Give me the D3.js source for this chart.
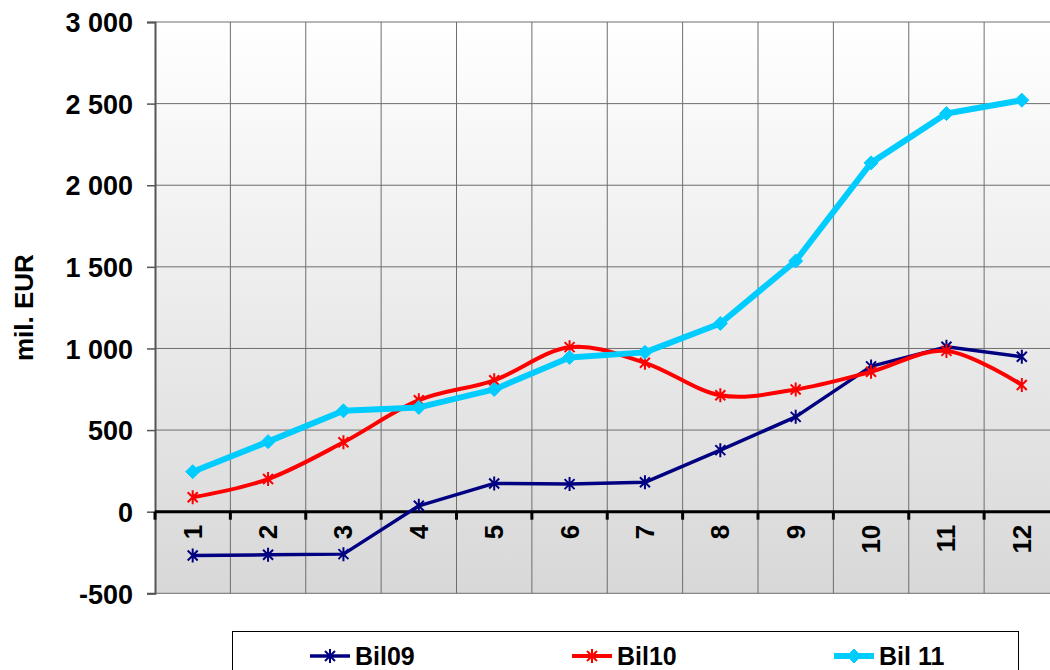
<!DOCTYPE html>
<html>
<head>
<meta charset="utf-8">
<script src="https://cdn.jsdelivr.net/npm/d3@7"></script>
<style>
  body { margin: 0; background: #fff; }
  svg { display: block; font-family: "Liberation Sans", Arial, sans-serif; }
</style>
</head>
<body>
<div id="chart"></div>
<script>
// Data
var months = ["1", "2", "3", "4", "5", "6", "7", "8", "9", "10", "11", "12"];
var bil09 = [-268, -264, -260, 36, 173, 169, 180, 377, 581, 890, 1010, 949];
var bil10 = [88, 200, 425, 683, 805, 1008, 912, 713, 749, 857, 985, 776];
var bil11 = [245, 429, 618, 639, 749, 945, 976, 1153, 1536, 2137, 2439, 2521];
var seriesNames = ["Bil09", "Bil10", "Bil 11"];
var yTicks = [-500, 0, 500, 1000, 1500, 2000, 2500, 3000];
var yLabel = "mil. EUR";

var width = 1050, height = 670;
var margin = {top: 22, left: 155};
var plotRight = 1059.5, plotBottom = 593.3;

var svg = d3.select("#chart").append("svg")
	.attr("width", width)
	.attr("height", height);

// background gradient of plot area
var defs = svg.append("defs");
var grad = defs.append("linearGradient")
	.attr("id", "bg")
	.attr("x1", 0).attr("y1", 0).attr("x2", 0).attr("y2", 1);
grad.append("stop").attr("offset", "0%").attr("stop-color", "#ffffff");
grad.append("stop").attr("offset", "100%").attr("stop-color", "#d8d8d8");

var x = d3.scaleBand()
	.domain(months)
	.range([margin.left, plotRight]);

var y = d3.scaleLinear()
	.domain([-500, 3000])
	.range([plotBottom, margin.top]);

svg.append("rect")
	.attr("x", margin.left)
	.attr("y", margin.top)
	.attr("width", plotRight - margin.left)
	.attr("height", plotBottom - margin.top)
	.attr("fill", "url(#bg)");

// horizontal grid
svg.append("g")
	.selectAll("line")
	.data(yTicks)
	.join("line")
	.attr("x1", margin.left)
	.attr("x2", plotRight)
	.attr("y1", d => y(d))
	.attr("y2", d => y(d))
	.attr("stroke", "#6e6e6e")
	.attr("stroke-width", 1);

// vertical grid at category boundaries
svg.append("g")
	.selectAll("line")
	.data(months.slice(1))
	.join("line")
	.attr("x1", d => x(d))
	.attr("x2", d => x(d))
	.attr("y1", margin.top)
	.attr("y2", plotBottom)
	.attr("stroke", "#6e6e6e")
	.attr("stroke-width", 1);

// y axis
var fmt = d3.format(",");
var yAxis = d3.axisLeft(y)
	.tickValues(yTicks)
	.tickSize(8)
	.tickPadding(14)
	.tickFormat(d => fmt(d).replace(/,/g, " ").replace("\u2212", "-"));

var yAxisG = svg.append("g")
	.attr("transform", `translate(${margin.left}, 0)`)
	.call(yAxis);
yAxisG.select(".domain").attr("stroke", "#555").attr("stroke-width", 2);
yAxisG.selectAll(".tick line").attr("stroke", "#555").attr("stroke-width", 1.5);
yAxisG.selectAll(".tick text")
	.attr("fill", "#000")
	.style("font-size", "27px")
	.style("font-weight", "bold")
	.attr("dy", "0.36em");

svg.append("text")
	.attr("transform", `translate(33, ${(margin.top + plotBottom) / 2}) rotate(-90)`)
	.attr("text-anchor", "middle")
	.style("font-size", "26px")
	.style("font-weight", "bold")
	.text(yLabel);

// x axis on the zero line
var xAxisG = svg.append("g")
	.attr("transform", `translate(0, ${y(0)})`);
xAxisG.append("line")
	.attr("x1", margin.left)
	.attr("x2", plotRight)
	.attr("stroke", "#000")
	.attr("stroke-width", 3);
xAxisG.selectAll(".xtick")
	.data(months)
	.join("line")
	.attr("class", "xtick")
	.attr("x1", d => x(d))
	.attr("x2", d => x(d))
	.attr("y1", 0)
	.attr("y2", 8)
	.attr("stroke", "#000")
	.attr("stroke-width", 3);
xAxisG.selectAll(".xlabel")
	.data(months)
	.join("text")
	.attr("class", "xlabel")
	.attr("transform", d => `translate(${x(d) + x.bandwidth() / 2 + 9}, 13) rotate(-90)`)
	.attr("text-anchor", "end")
	.style("font-size", "26px")
	.style("font-weight", "bold")
	.text(d => d);

// series
var star = "M-5,-5L5,5M-5,5L5,-5M0,-7L0,7";
var diamond = "M0,-7L7,0L0,7L-7,0Z";
var series = [
	{name: seriesNames[0], values: bil09, color: "#000080", width: 3.5, curve: d3.curveLinear, marker: "star"},
	{name: seriesNames[1], values: bil10, color: "#ff0000", width: 4, curve: d3.curveCardinal.tension(0), marker: "star"},
	{name: seriesNames[2], values: bil11, color: "#00ccff", width: 6, curve: d3.curveLinear, marker: "diamond"}
];

var cx = (d, i) => x(months[i]) + x.bandwidth() / 2;

series.forEach(function(s){
	var line = d3.line()
		.x((d, i) => cx(d, i))
		.y(d => y(d))
		.curve(s.curve);

	svg.append("path")
		.datum(s.values)
		.attr("d", line)
		.attr("fill", "none")
		.attr("stroke", s.color)
		.attr("stroke-width", s.width)
		.attr("stroke-linejoin", "round");

	svg.append("g")
		.selectAll("path")
		.data(s.values)
		.join("path")
		.attr("transform", (d, i) => `translate(${cx(d, i)}, ${y(d)})`)
		.attr("d", s.marker == "star" ? star : diamond)
		.attr("fill", s.color)
		.attr("stroke", s.color)
		.attr("stroke-width", s.marker == "star" ? 2 : 1);
});

// legend
svg.append("rect")
	.attr("x", 232.5)
	.attr("y", 631.5)
	.attr("width", 786)
	.attr("height", 60)
	.attr("fill", "#fff")
	.attr("stroke", "#000")
	.attr("stroke-width", 1);

var legendX = [310, 572, 834];
series.forEach(function(s, i){
	var g = svg.append("g").attr("transform", `translate(${legendX[i]}, 656)`);
	g.append("line")
		.attr("x1", 0).attr("x2", 40)
		.attr("stroke", s.color)
		.attr("stroke-width", s.width);
	g.append("path")
		.attr("transform", "translate(20, 0)")
		.attr("d", s.marker == "star" ? star : diamond)
		.attr("fill", s.color)
		.attr("stroke", s.color)
		.attr("stroke-width", s.marker == "star" ? 2 : 1);
	g.append("text")
		.attr("x", 45)
		.attr("dy", "0.36em")
		.style("font-size", "25px")
		.style("font-weight", "bold")
		.text(s.name);
});
</script>
</body>
</html>
